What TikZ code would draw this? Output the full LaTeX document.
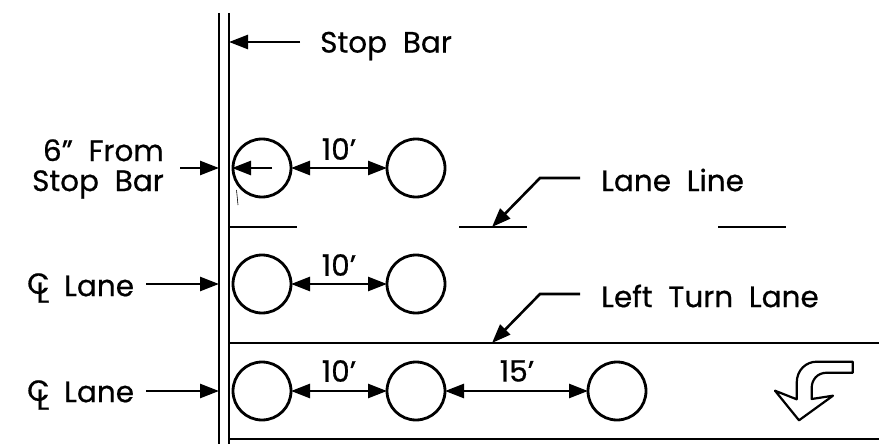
\documentclass[tikz,border=0pt]{standalone}
\usepackage{fontspec}
\setmainfont[WordSpace=2,FakeBold=0.6]{Poppins}
\usetikzlibrary{arrows.meta}
\newcommand{\clsym}{C\kern-13pt\raisebox{-9pt}{L}}
\tikzset{
  lbl/.style={inner sep=0pt,font=\fontsize{29.5}{30}\selectfont,text=black},
  cls/.style={inner sep=0pt,font=\fontsize{29}{30}\selectfont,text=black},
  sig/.style={circle,draw,line width=2.8pt,minimum size=58pt,inner sep=0pt,outer sep=0pt},
  road/.style={line width=2.4pt},
  conn/.style={line width=2.6pt,-{Triangle[length=19pt,width=14pt]}},
  dim/.style={line width=2.6pt,{Triangle[length=19pt,width=14pt]}-{Triangle[length=19pt,width=14pt]}},
}
\begin{document}
\begin{tikzpicture}[x=1pt,y=-1pt]
\useasboundingbox (0,0) rectangle (879,444);
% stop bar lines
\coordinate (b1t) at (219,13); \coordinate (b1b) at (219,444);
\coordinate (b2t) at (229,13); \coordinate (b2b) at (229,444);
\draw[road] (b1t) -- (b1b);
\draw[road] (b2t) -- (b2b);
% lane lines
\coordinate (l1a) at (229,227); \coordinate (l1b) at (297,227);
\coordinate (l2a) at (459,227); \coordinate (l2b) at (527,227);
\coordinate (l3a) at (718,227); \coordinate (l3b) at (786,227);
\draw[road] (l1a) -- (l1b);
\draw[road] (l2a) -- (l2b);
\draw[road] (l3a) -- (l3b);
\coordinate (t1a) at (229,343); \coordinate (t1b) at (879,343);
\coordinate (t2a) at (229,439); \coordinate (t2b) at (879,439);
\draw[road] (t1a) -- (t1b);
\draw[road] (t2a) -- (t2b);
% circles
\node[sig] (c11) at (262,168) {};
\node[sig] (c12) at (416,168) {};
\node[sig] (c21) at (262,284) {};
\node[sig] (c22) at (416,284) {};
\node[sig] (c31) at (262,391) {};
\node[sig] (c32) at (416,391) {};
\node[sig] (c33) at (617,391) {};
% dimensions
\draw[dim] (c11) -- (c12);
\draw[dim] (c21) -- (c22);
\draw[dim] (c31) -- (c32);
\draw[dim] (c32) -- (c33);
\node[lbl] (d1) at (339,149) {10'};
\node[lbl] (d2) at (339,265) {10'};
\node[lbl] (d3) at (339,371) {10'};
\node[lbl] (d4) at (517,371) {15'};
% stop bar
\node[lbl,anchor=west] (stop) at (320,46) {Stop Bar};
\coordinate (sa) at (300,42); \coordinate (sb) at (229,42);
\draw[conn] (sa) -- (sb);
% six inch
\node[lbl,anchor=east,align=right] (six) at (164,169) {6" From\\Stop Bar};
\coordinate (sxa) at (180,168); \coordinate (sxb) at (219,168);
\coordinate (sxc) at (272,168); \coordinate (sxd) at (232,168);
\draw[conn] (sxa) -- (sxb);
\draw[conn] (sxc) -- (sxd);
\coordinate (ma) at (236.5,190); \coordinate (mb) at (238,205);
\draw[line width=.6pt] (ma) -- (mb);
% centre line labels
\node[cls,anchor=west] (cc1) at (27,288) {\clsym};
\node[lbl,anchor=west] (la1) at (64,286) {Lane};
\node[cls,anchor=west] (cc2) at (27,395) {\clsym};
\node[lbl,anchor=west] (la2) at (64,392) {Lane};
\coordinate (ca) at (146,284); \coordinate (cb) at (219,284);
\coordinate (cc) at (146,391); \coordinate (cd) at (219,391);
\draw[conn] (ca) -- (cb);
\draw[conn] (cc) -- (cd);
% leaders
\node[lbl,anchor=west] (ll) at (601,180) {Lane Line};
\node[lbl,anchor=west] (ltl) at (601,296) {Left Turn Lane};
\coordinate (la) at (580,178); \coordinate (lm) at (540,178); \coordinate (lt) at (492,227);
\coordinate (ta) at (580,294); \coordinate (tm) at (540,294); \coordinate (tt) at (492,343);
\draw[conn] (la) -- (lm) -- (lt);
\draw[conn] (ta) -- (tm) -- (tt);
% turn arrow
\draw[line width=2.2pt,line join=round] (852.7,361.7) -- (852.7,372.7) -- (827,372.7)
  .. controls (817,372.7) and (811.7,380) .. (811.7,388) -- (811.7,399) -- (833,395.7)
  -- (799,420.3) -- (775,390.7) -- (796.7,399.3) -- (796.7,383)
  .. controls (796.7,370) and (806,361.7) .. (816.7,361.7) -- cycle;
\end{tikzpicture}
\end{document}
